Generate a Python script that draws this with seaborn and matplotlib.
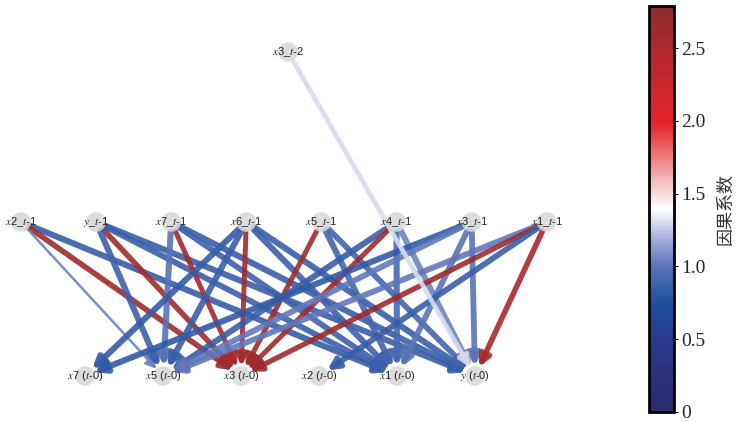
import numpy as np
import pandas as pd
import matplotlib
matplotlib.use("Agg")
import matplotlib.pyplot as plt
import seaborn as sns
from matplotlib.colors import LinearSegmentedColormap, Normalize
from matplotlib.patches import FancyArrowPatch
from matplotlib.cm import ScalarMappable
from matplotlib.ticker import FixedLocator, FixedFormatter

# ---- graph data -------------------------------------------------------
lag2_nodes = ["x3"]
lag1_nodes = ["x2", "y", "x7", "x6", "x5", "x4", "x3", "x1"]
lag0_nodes = ["x7", "x5", "x3", "x2", "x1", "y"]

edge_src = ["x2_t-1", "x2_t-1", "x2_t-1",
            "y_t-1", "y_t-1", "y_t-1", "y_t-1",
            "x7_t-1", "x7_t-1", "x7_t-1", "x7_t-1",
            "x6_t-1", "x6_t-1", "x6_t-1", "x6_t-1", "x6_t-1",
            "x5_t-1", "x5_t-1", "x5_t-1",
            "x4_t-1", "x4_t-1", "x4_t-1", "x4_t-1",
            "x3_t-1", "x3_t-1", "x3_t-1", "x3_t-1",
            "x1_t-1", "x1_t-1", "x1_t-1", "x1_t-1",
            "x3_t-2"]
edge_dst = ["x1_t-0", "x3_t-0", "x5_t-0",
            "y_t-0", "x3_t-0", "x5_t-0", "x1_t-0",
            "x5_t-0", "x3_t-0", "y_t-0", "x1_t-0",
            "x7_t-0", "x5_t-0", "x3_t-0", "x1_t-0", "y_t-0",
            "x3_t-0", "x1_t-0", "y_t-0",
            "x5_t-0", "x3_t-0", "x1_t-0", "y_t-0",
            "x7_t-0", "x5_t-0", "x1_t-0", "y_t-0",
            "x5_t-0", "x3_t-0", "x2_t-0", "y_t-0",
            "y_t-0"]
edge_coef = [0.85, 2.62, 1.05,
             0.86, 2.60, 0.88, 0.86,
             1.00, 2.58, 0.86, 0.88,
             0.84, 0.86, 2.60, 0.88, 0.86,
             2.62, 0.90, 0.90,
             0.86, 2.60, 0.92, 1.05,
             0.82, 1.02, 1.00, 1.00,
             1.02, 2.62, 0.86, 2.55,
             1.30]
edge_width = [4.4, 4.0, 1.8,
              4.4, 4.0, 4.4, 4.2,
              4.4, 3.6, 4.4, 4.2,
              4.4, 4.4, 3.6, 4.4, 4.4,
              3.6, 4.4, 4.2,
              4.4, 3.6, 4.4, 4.2,
              4.4, 4.2, 4.2, 4.2,
              4.2, 3.8, 4.2, 4.0,
              3.4]

cbar_ticks = [0, 0.5, 1.0, 1.5, 2.0, 2.5]
cbar_ticklabels = ["0", "0.5", "1.0", "1.5", "2.0", "2.5"]
coef_max = 2.79

# ---- style ------------------------------------------------------------
sns.set_theme(style="white")
plt.rcParams["font.family"] = ["Liberation Sans", "DejaVu Sans"]
plt.rcParams["mathtext.fontset"] = "stix"

W, H = 736, 422
fig = plt.figure(figsize=(W / 100, H / 100), dpi=100)
ax = fig.add_axes([0, 0, 632 / W, 1])

# ---- layout: one row per time lag ---------------------------------------
def row(names, lag, x0, step, yrow):
    return {f"{n}_t-{lag}": (x0 + step * i, yrow) for i, n in enumerate(names)}

pos = {}
pos.update(row(lag2_nodes, 2, 288, 0, 52))
pos.update(row(lag1_nodes, 1, 21, 75.1, 222))
pos.update(row(lag0_nodes, 0, 85, 78, 376))

def node_label(key):
    name, lag = key.split("_t-")
    var = f"${name[0]}${name[1:]}"
    if lag == "0":
        return f"{var} ($t$-0)"
    return f"{var}_$t$-{lag}"

nodes = pd.DataFrame({"node": list(pos),
                      "x": [p[0] for p in pos.values()],
                      "y": [p[1] for p in pos.values()]})

cmap = LinearSegmentedColormap.from_list("coef", [
    (0.00, "#2a2c6b"), (0.18, "#2b3990"), (0.26, "#1c4c9c"),
    (0.36, "#5b74b9"), (0.43, "#aab3dc"), (0.50, "#ffffff"),
    (0.57, "#f4bcbc"), (0.64, "#ee6e6e"), (0.71, "#e4252a"),
    (0.86, "#bd262e"), (1.00, "#8a2f2b")])
norm = Normalize(vmin=0, vmax=coef_max)

# ---- nodes -------------------------------------------------------------
sns.scatterplot(data=nodes, x="x", y="y", s=200, color="#d8d8d8", alpha=0.85,
                edgecolor="none", ax=ax, zorder=2, legend=False)
ax.set_xlim(0, 632)
ax.set_ylim(H, 0)
ax.set_axis_off()

# ---- edges -------------------------------------------------------------
node_r = 7.0  # points
for s, d, c, w in zip(edge_src, edge_dst, edge_coef, edge_width):
    arr = FancyArrowPatch(pos[s], pos[d], arrowstyle="-|>", mutation_scale=16,
                          shrinkA=node_r, shrinkB=node_r, lw=w,
                          color=cmap(norm(c)), alpha=0.9, zorder=1)
    ax.add_patch(arr)

for key, (x, y) in pos.items():
    ax.text(x, y, node_label(key), ha="center", va="center", fontsize=8,
            color="#222222", zorder=3)

# ---- colour bar --------------------------------------------------------
cax = fig.add_axes([649 / W, (H - 412) / H, 25 / W, 406 / H])
sm = ScalarMappable(norm=norm, cmap=cmap)
cb = fig.colorbar(sm, cax=cax)
cb.outline.set_linewidth(2.0)
cb.outline.set_edgecolor("black")
cax.yaxis.set_major_locator(FixedLocator(cbar_ticks))
cax.yaxis.set_major_formatter(FixedFormatter(cbar_ticklabels))
cax.tick_params(axis="y", length=3, width=0.8, color="black", pad=2,
                labelsize=14, right=True)
for t in cax.get_yticklabels():
    t.set_fontfamily(["Liberation Serif", "DejaVu Serif"])
cax.set_ylabel("因果系数", fontsize=13, labelpad=8, color="#333333",
               family=["Noto Sans CJK SC", "DejaVu Sans"])

fig.savefig("out.png", dpi=100)
